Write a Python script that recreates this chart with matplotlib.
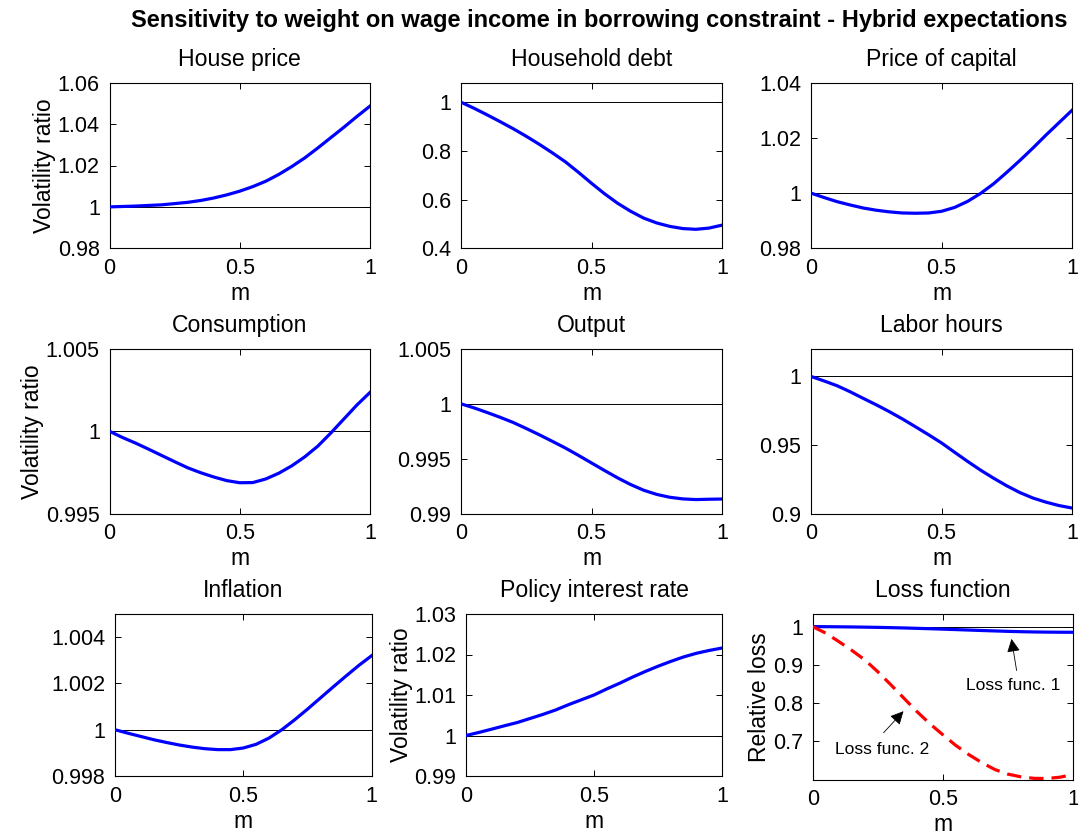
import matplotlib
matplotlib.use("Agg")
import matplotlib.pyplot as plt
from matplotlib.ticker import FuncFormatter
import numpy as np

plt.rcParams['font.family'] = ['Liberation Sans', 'DejaVu Sans']

# ---------------- data ----------------
m = [0.0, 0.05, 0.1, 0.15, 0.2, 0.25, 0.3, 0.35, 0.4, 0.45, 0.5,
     0.55, 0.6, 0.65, 0.7, 0.75, 0.8, 0.85, 0.9, 0.95, 1.0]

house_price = [1.0000, 1.0002, 1.0004, 1.0007, 1.0010, 1.0016, 1.0022, 1.0031, 1.0043, 1.0058, 1.0076,
               1.0098, 1.0124, 1.0157, 1.0195, 1.0237, 1.0285, 1.0335, 1.0385, 1.0437, 1.0487]
household_debt = [1.000, 0.975, 0.948, 0.920, 0.891, 0.860, 0.827, 0.792, 0.755, 0.712, 0.667,
                  0.624, 0.585, 0.552, 0.524, 0.504, 0.490, 0.481, 0.478, 0.483, 0.495]
price_capital = [1.0000, 0.9984, 0.9969, 0.9957, 0.9946, 0.9938, 0.9932, 0.9928, 0.9927, 0.9928, 0.9934,
                 0.9948, 0.9970, 0.9999, 1.0034, 1.0075, 1.0118, 1.0163, 1.0210, 1.0255, 1.0300]
consumption = [1.00000, 0.99962, 0.99928, 0.99891, 0.99853, 0.99815, 0.99778, 0.99748, 0.99722, 0.99700, 0.99687,
               0.99688, 0.99710, 0.99745, 0.99790, 0.99845, 0.99910, 0.99990, 1.00075, 1.00160, 1.00236]
output = [1.00000, 0.99963, 0.99921, 0.99877, 0.99830, 0.99775, 0.99718, 0.99658, 0.99597, 0.99530, 0.99461,
          0.99392, 0.99325, 0.99264, 0.99212, 0.99174, 0.99148, 0.99133, 0.99127, 0.99130, 0.99132]
labor_hours = [1.0000, 0.9967, 0.9932, 0.9888, 0.9840, 0.9793, 0.9743, 0.9690, 0.9633, 0.9575, 0.9515,
               0.9447, 0.9380, 0.9316, 0.9257, 0.9202, 0.9153, 0.9113, 0.9083, 0.9058, 0.9040]
inflation = [1.00000, 0.99985, 0.99971, 0.99957, 0.99945, 0.99934, 0.99925, 0.99918, 0.99914, 0.99914, 0.99921,
             0.99937, 0.99964, 1.00000, 1.00043, 1.00089, 1.00137, 1.00185, 1.00232, 1.00278, 1.00320]
policy_rate = [1.0000, 1.00075, 1.00156, 1.0024, 1.0032, 1.0042, 1.0052, 1.0063, 1.0076, 1.0088, 1.0100,
               1.0115, 1.0129, 1.0144, 1.0158, 1.0171, 1.0183, 1.0194, 1.0203, 1.0210, 1.0216]
loss1 = [1.0000, 0.9998, 0.9995, 0.9991, 0.9986, 0.9980, 0.9973, 0.9965, 0.9955, 0.9945, 0.9934,
         0.9922, 0.9910, 0.9898, 0.9887, 0.9876, 0.9867, 0.9860, 0.9856, 0.9853, 0.9852]
loss2 = [1.000, 0.983, 0.961, 0.938, 0.913, 0.882, 0.848, 0.813, 0.778, 0.746, 0.717,
         0.689, 0.665, 0.644, 0.626, 0.614, 0.607, 0.603, 0.6026, 0.606, 0.613]

titles = ["House price", "Household debt", "Price of capital",
          "Consumption", "Output", "Labor hours",
          "Inflation", "Policy interest rate", "Loss function"]
series = [house_price, household_debt, price_capital,
          consumption, output, labor_hours,
          inflation, policy_rate]
yticks = [[0.98, 1, 1.02, 1.04, 1.06], [0.4, 0.6, 0.8, 1], [0.98, 1, 1.02, 1.04],
          [0.995, 1, 1.005], [0.99, 0.995, 1, 1.005], [0.9, 0.95, 1],
          [0.998, 1, 1.002, 1.004], [0.99, 1, 1.01, 1.02, 1.03], [0.7, 0.8, 0.9, 1]]
ylims = [(0.98, 1.06), (0.4, 1.08), (0.98, 1.04),
         (0.995, 1.005), (0.99, 1.005), (0.9, 1.02),
         (0.998, 1.005), (0.99, 1.03), (0.6, 1.033)]
ylabels = ["Volatility ratio", "", "", "Volatility ratio", "", "",
           "", "Volatility ratio", "Relative loss"]
xticks = [0, 0.5, 1]

# ---------------- layout (pixels) ----------------
W, H = 1078, 836
boxes = [(109.5, 370, 82.7, 248.3), (461, 722, 82.7, 248.3), (811, 1072, 82.7, 248.3),
         (109.5, 370, 349, 513.5), (461, 722, 349, 513.5), (811, 1072, 349, 513.5),
         (115, 371.7, 614, 776), (466, 722, 614, 776), (812.7, 1073, 614, 779.5)]

fig = plt.figure(figsize=(W / 100, H / 100), dpi=100)
fmt = FuncFormatter(lambda v, p: ('%g' % round(v, 6)))

FS_TICK = 15.5
FS_TITLE = 16.6
FS_LABEL = 16.5

axes = []
for i, (x0, x1, y0, y1) in enumerate(boxes):
    ax = fig.add_axes([x0 / W, 1 - y1 / H, (x1 - x0) / W, (y1 - y0) / H])
    axes.append(ax)
    ax.axhline(1.0, color='k', lw=0.7, zorder=1)
    if i < 8:
        ax.plot(m, series[i], color='#0000ff', lw=2.3, zorder=3)
    ax.set_xlim(0, 1)
    ax.set_ylim(*ylims[i])
    ax.set_xticks(xticks)
    ax.set_yticks(yticks[i])
    ax.xaxis.set_major_formatter(fmt)
    ax.yaxis.set_major_formatter(fmt)
    ax.tick_params(direction='in', top=True, right=True, length=4, width=0.7,
                   labelsize=FS_TICK, pad=7)
    for s in ax.spines.values():
        s.set_linewidth(0.8)
    ax.set_title(titles[i], fontsize=FS_TITLE, pad=12)
    ax.set_xlabel("m", fontsize=FS_LABEL, labelpad=2)
    if ylabels[i]:
        ax.set_ylabel(ylabels[i], fontsize=FS_LABEL, labelpad=1)

# loss function panel
axl = axes[8]
axl.plot(m, loss1, color='#0000ff', lw=2.3, zorder=3)
axl.plot(m, loss2, color='#ff0000', lw=2.3, dashes=(4.5, 2.5), zorder=3)
axl.text(0.77, 0.846, "Loss func. 1", fontsize=12.5, ha='center', va='center')
axl.annotate("", xy=(0.762, 0.975), xytext=(0.785, 0.878),
             arrowprops=dict(arrowstyle='-|>', color='k', lw=0.6, mutation_scale=20))
axl.text(0.265, 0.678, "Loss func. 2", fontsize=12.5, ha='center', va='center')
axl.annotate("", xy=(0.356, 0.784), xytext=(0.265, 0.717),
             arrowprops=dict(arrowstyle='-|>', color='k', lw=0.6, mutation_scale=20))

fig.text(599 / W, 1 - 20 / H,
         "Sensitivity to weight on wage income in borrowing constraint - Hybrid expectations",
         fontsize=17, fontweight='bold', ha='center', va='center')

fig.savefig("out.png", dpi=100)
